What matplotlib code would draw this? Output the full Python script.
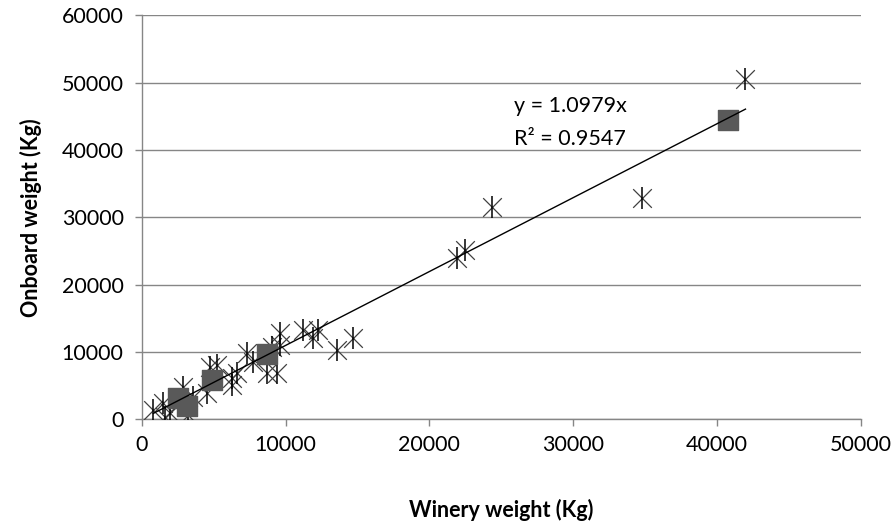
import matplotlib.pyplot as plt
import numpy as np

plt.rcParams['font.family'] = ['Lato', 'DejaVu Sans']

# dados
winery_star = [810, 1500, 1620, 2000, 3200, 2890, 3590, 4520, 4750, 5210, 6250, 6250, 6600,
               7300, 7760, 8690, 9380, 9610, 9610, 9030, 11230, 12270, 11920, 13550,
               14700, 21890, 22470, 24360, 34750, 41970]
onboard_star = [1400, 2390, 400, 1000, 700, 4860, 3370, 3870, 7830, 8080, 6100, 5100, 6850,
                9820, 8570, 6850, 6850, 12790, 11050, 10800, 13280, 13280, 12040, 10300,
                12040, 23920, 25160, 31590, 32840, 50560]
winery_sq = [2550, 3170, 4860, 8690, 40770]
onboard_sq = [3130, 1990, 5850, 9670, 44470]
slope = 1.0979
r2 = 0.9547

fig = plt.figure(figsize=(8.95, 5.27), dpi=100)
ax = fig.add_axes([0.1583, 0.2042, 0.8037, 0.7666])

ax.set_xlim(0, 50000)
ax.set_ylim(0, 60000)
ax.set_xticks(np.arange(0, 50001, 10000))
ax.set_yticks(np.arange(0, 60001, 10000))
ax.yaxis.grid(True, color='#868686', linewidth=1)
ax.set_axisbelow(True)
for s in ['top', 'right']:
    ax.spines[s].set_visible(False)
for s in ['left', 'bottom']:
    ax.spines[s].set_color('#868686')
    ax.spines[s].set_linewidth(1)
ax.tick_params(axis='both', colors='#868686', length=5, width=1, labelsize=15.5,
               labelcolor='black')
ax.tick_params(axis='x', pad=6)
ax.tick_params(axis='y', pad=8)

# estrelas (X + barra vertical)
ax.scatter(winery_star, onboard_star, marker='x', s=180, color='#404040', linewidths=0.9, zorder=3)
ax.scatter(winery_star, onboard_star, marker='|', s=260, color='black', linewidths=1.1, zorder=3)
ax.scatter(winery_sq, onboard_sq, marker='s', s=200, color='#595959', zorder=4)

# linha de tendência
xt = np.array([min(winery_star), max(winery_star)])
ax.plot(xt, slope * xt, color='black', linewidth=1, zorder=5)

ax.text(25870, 46500, f'y = {slope}x', fontsize=15.5, va='center', ha='left')
ax.text(25870, 41600, f'R² = {r2}', fontsize=15.5, va='center', ha='left')

ax.set_xlabel('Winery weight (Kg)', fontsize=15.5, fontweight='bold', labelpad=32)
ax.set_ylabel('Onboard weight (Kg)', fontsize=15.5, fontweight='bold', labelpad=14)

fig.savefig('out.png', dpi=100)
